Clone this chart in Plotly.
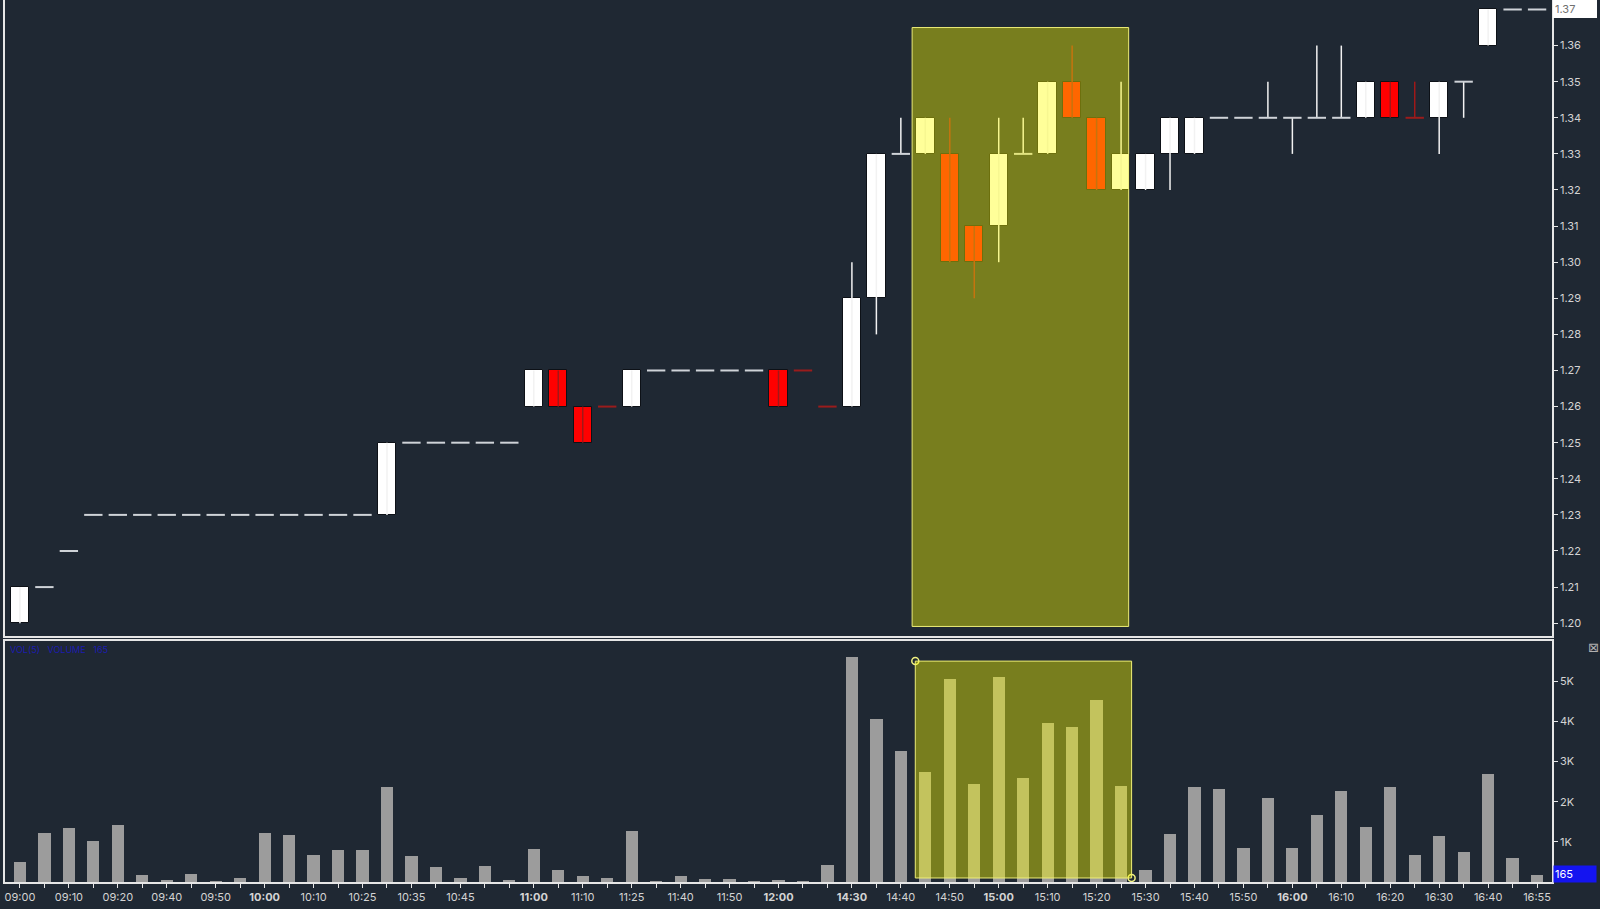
import plotly.graph_objects as go

# ---------------- data ----------------
times = ["09:00","09:05","09:10","09:15","09:20","09:35","09:40","09:45","09:50","09:55",
         "10:00","10:05","10:10","10:20","10:25","10:30","10:35","10:40","10:45","10:50",
         "10:55","11:00","11:05","11:10","11:20","11:25","11:35","11:40","11:45","11:50",
         "11:55","12:00","12:05","14:25","14:30","14:35","14:40","14:45","14:50","14:55",
         "15:00","15:05","15:10","15:15","15:20","15:25","15:30","15:35","15:40","15:45",
         "15:50","15:55","16:00","16:05","16:10","16:15","16:20","16:25","16:30","16:35",
         "16:40","16:45","16:55"]

opens  = [1.20,1.21,1.22,1.23,1.23,1.23,1.23,1.23,1.23,1.23,
          1.23,1.23,1.23,1.23,1.23,1.23,1.25,1.25,1.25,1.25,
          1.25,1.26,1.27,1.26,1.26,1.26,1.27,1.27,1.27,1.27,
          1.27,1.27,1.27,1.26,1.26,1.29,1.33,1.33,1.33,1.31,
          1.31,1.33,1.33,1.35,1.34,1.32,1.32,1.33,1.33,1.34,
          1.34,1.34,1.34,1.34,1.34,1.34,1.35,1.34,1.34,1.35,
          1.36,1.37,1.37]
highs  = [1.21,1.21,1.22,1.23,1.23,1.23,1.23,1.23,1.23,1.23,
          1.23,1.23,1.23,1.23,1.23,1.25,1.25,1.25,1.25,1.25,
          1.25,1.27,1.27,1.26,1.26,1.27,1.27,1.27,1.27,1.27,
          1.27,1.27,1.27,1.26,1.30,1.33,1.34,1.34,1.34,1.31,
          1.34,1.34,1.35,1.36,1.34,1.35,1.33,1.34,1.34,1.34,
          1.34,1.35,1.34,1.36,1.36,1.35,1.35,1.35,1.35,1.35,
          1.37,1.37,1.37]
lows   = [1.20,1.21,1.22,1.23,1.23,1.23,1.23,1.23,1.23,1.23,
          1.23,1.23,1.23,1.23,1.23,1.23,1.25,1.25,1.25,1.25,
          1.25,1.26,1.26,1.25,1.26,1.26,1.27,1.27,1.27,1.27,
          1.27,1.26,1.27,1.26,1.26,1.28,1.33,1.33,1.30,1.29,
          1.30,1.33,1.33,1.34,1.32,1.32,1.32,1.32,1.33,1.34,
          1.34,1.34,1.33,1.34,1.34,1.34,1.34,1.34,1.33,1.34,
          1.36,1.37,1.37]
closes = [1.21,1.21,1.22,1.23,1.23,1.23,1.23,1.23,1.23,1.23,
          1.23,1.23,1.23,1.23,1.23,1.25,1.25,1.25,1.25,1.25,
          1.25,1.27,1.26,1.25,1.26,1.27,1.27,1.27,1.27,1.27,
          1.27,1.26,1.27,1.26,1.29,1.33,1.33,1.34,1.30,1.30,
          1.33,1.33,1.35,1.34,1.32,1.33,1.33,1.34,1.34,1.34,
          1.34,1.34,1.34,1.34,1.34,1.35,1.34,1.34,1.35,1.35,
          1.37,1.37,1.37]
volumes = [500,1210,1350,1010,1410,165,57,190,20,107,
           1220,1180,680,805,805,2370,640,380,100,400,
           40,810,290,156,90,1270,15,140,73,73,
           10,57,5,414,5610,4055,3250,2730,5045,2440,
           5095,2590,3950,3850,4530,2385,305,1190,2370,2310,
           845,2095,845,1670,2270,1360,2370,670,1140,740,
           2685,590,165]

tick_labels = ["09:00","09:10","09:20","09:40","09:50","10:00","10:10","10:25","10:35","10:45",
               "11:00","11:10","11:25","11:40","11:50","12:00","14:30","14:40","14:50","15:00",
               "15:10","15:20","15:30","15:40","15:50","16:00","16:10","16:20","16:30","16:40","16:55"]
bold_labels = ["10:00","11:00","12:00","14:30","15:00","16:00"]

price_ticks = [1.20,1.21,1.22,1.23,1.24,1.25,1.26,1.27,1.28,1.29,1.30,1.31,1.32,1.33,1.34,1.35,1.36,1.37]
vol_ticks = [1000,2000,3000,4000,5000]
vol_tick_text = ["1K","2K","3K","4K","5K"]

last_price = 1.37
last_volume = 165

# highlighted zone (start bar, end bar, low, high) in each pane
price_zone = [36.46, 45.31, 1.1991, 1.365]
volume_zone = [36.59, 45.43, 100, 5500]

# ---------------- style ----------------
BG = "#1f2833"
AX = "#e6e6e6"
TXT = "#d4d4d4"
FONT = "Inter"
BODY_W = 0.75

idx = list(range(len(times)))

# classify candles
up_x, up_b, up_h = [], [], []
dn_x, dn_b, dn_h = [], [], []
wick = {"up": ([], []), "dn": ([], [])}
doji = {"up": ([], []), "dn": ([], [])}
last_dir = "up"
for i, o, h, l, c in zip(idx, opens, highs, lows, closes):
    if c > o:
        d = "up"
        up_x.append(i); up_b.append(o); up_h.append(c - o)
    elif c < o:
        d = "dn"
        dn_x.append(i); dn_b.append(c); dn_h.append(o - c)
    else:
        d = last_dir
        dx, dy = doji[d]
        dx += [i - BODY_W / 2, i + BODY_W / 2, None]
        dy += [c, c, None]
    last_dir = d
    if h > l:
        wx, wy = wick[d]
        wx += [i, i, None]
        wy += [l, h, None]

fig = go.Figure()

# wicks
fig.add_trace(go.Scatter(x=wick["up"][0], y=wick["up"][1], mode="lines",
                         line=dict(color="#f2f2f2", width=1.5), hoverinfo="skip",
                         xaxis="x", yaxis="y"))
fig.add_trace(go.Scatter(x=wick["dn"][0], y=wick["dn"][1], mode="lines",
                         line=dict(color="#a01818", width=1.5), hoverinfo="skip",
                         xaxis="x", yaxis="y"))
# bodies
fig.add_trace(go.Bar(x=up_x, y=up_h, base=up_b, width=BODY_W,
                     marker=dict(color="#ffffff", line=dict(color="#0d1117", width=1)),
                     xaxis="x", yaxis="y"))
fig.add_trace(go.Bar(x=dn_x, y=dn_h, base=dn_b, width=BODY_W,
                     marker=dict(color="#ff0000", line=dict(color="#0d1117", width=1)),
                     xaxis="x", yaxis="y"))
# doji dashes
fig.add_trace(go.Scatter(x=doji["up"][0], y=doji["up"][1], mode="lines",
                         line=dict(color="#cfd3d8", width=2), hoverinfo="skip",
                         xaxis="x", yaxis="y"))
fig.add_trace(go.Scatter(x=doji["dn"][0], y=doji["dn"][1], mode="lines",
                         line=dict(color="#9a1c1c", width=2), hoverinfo="skip",
                         xaxis="x", yaxis="y"))
# volume
fig.add_trace(go.Bar(x=idx, y=volumes, width=0.5,
                     marker=dict(color="#9c9c9c", line=dict(width=0)),
                     xaxis="x2", yaxis="y2"))
# zone handles in volume pane
fig.add_trace(go.Scatter(x=[volume_zone[0], volume_zone[1]], y=[volume_zone[3], volume_zone[2]],
                         mode="markers",
                         marker=dict(symbol="circle-open", size=7, color="#f0f080", line=dict(width=1.5)),
                         hoverinfo="skip", xaxis="x2", yaxis="y2"))

ticktext = []
for t in times:
    if t in tick_labels:
        ticktext.append(f"<b>{t}</b>" if t in bold_labels else t)
    else:
        ticktext.append("")

price_text = ["" if v == last_price else f"{v:.2f}" for v in price_ticks]

xr = [-0.61, 62.61]
fig.update_layout(
    width=1600, height=909,
    paper_bgcolor=BG, plot_bgcolor=BG,
    margin=dict(l=5, r=48, t=0, b=27, autoexpand=False),
    showlegend=False, barmode="overlay", bargap=0,
    font=dict(family=FONT, size=11, color=TXT),
    xaxis=dict(domain=[0, 1], range=xr, anchor="y", showline=True, linecolor=AX, linewidth=1.5,
               showticklabels=False, ticks="", showgrid=False, zeroline=False, automargin=False),
    yaxis=dict(domain=[0.2789, 1], range=[1.19645, 1.37263], anchor="x", side="right",
               showline=True, mirror=True, linecolor=AX, linewidth=1.5,
               ticks="outside", ticklen=4, tickcolor=AX, tickwidth=1,
               tickvals=price_ticks, ticktext=price_text, automargin=False,
               showgrid=False, zeroline=False, tickfont=dict(size=11, color=TXT)),
    xaxis2=dict(domain=[0, 1], range=xr, anchor="y2", showline=True, mirror=True,
                linecolor=AX, linewidth=1.5, ticks="outside", ticklen=4, tickcolor=AX,
                tickvals=idx, ticktext=ticktext, tickangle=0, automargin=False,
                showgrid=False, zeroline=False, tickfont=dict(size=11, color=TXT)),
    yaxis2=dict(domain=[0, 0.2732], range=[0, 6000], anchor="x2", side="right",
                showline=True, mirror=True, linecolor=AX, linewidth=1.5,
                ticks="outside", ticklen=4, tickcolor=AX, automargin=False,
                tickvals=vol_ticks, ticktext=vol_tick_text,
                showgrid=False, zeroline=False, tickfont=dict(size=11, color=TXT)),
)

fig.add_shape(type="rect", xref="x", yref="y",
              x0=price_zone[0], x1=price_zone[1], y0=price_zone[2], y1=price_zone[3],
              fillcolor="rgba(255,255,0,0.4)", line=dict(color="#eeee77", width=1), layer="above")
fig.add_shape(type="rect", xref="x2", yref="y2",
              x0=volume_zone[0], x1=volume_zone[1], y0=volume_zone[2], y1=volume_zone[3],
              fillcolor="rgba(255,255,0,0.4)", line=dict(color="#eeee77", width=1), layer="above")

fig.add_annotation(xref="paper", yref="y", x=1, y=last_price, xanchor="left", yanchor="middle",
                   text=f"{last_price:.2f}", showarrow=False, bgcolor="#ffffff",
                   bordercolor="#ffffff", borderwidth=1, width=40, align="left", xshift=1,
                   font=dict(family=FONT, size=11, color="#707070"))
fig.add_annotation(xref="paper", yref="y2", x=1, y=last_volume, xanchor="left", yanchor="bottom",
                   text=str(last_volume), showarrow=False, bgcolor="#1414f0",
                   width=40, align="left", xshift=1, yshift=-8,
                   font=dict(family=FONT, size=11, color="#ffffff"))
fig.add_annotation(xref="paper", yref="paper", x=0, y=0.2732, xanchor="left", yanchor="top",
                   text="VOL(5)   VOLUME   165", showarrow=False, xshift=3, yshift=-1,
                   font=dict(family=FONT, size=9, color="#1c1cb0"))
fig.add_annotation(xref="paper", yref="paper", x=1, y=0.2732, xanchor="center", yanchor="top",
                   text="⊠", showarrow=False, xshift=41, yshift=3,
                   font=dict(family="DejaVu Sans", size=13, color="#b0b0b0"))

fig.write_html("out.html", config={"displayModeBar": False},
               post_script="document.body.style.margin='0px';document.body.style.overflow='hidden';"
                           "document.body.style.background='" + BG + "';")
